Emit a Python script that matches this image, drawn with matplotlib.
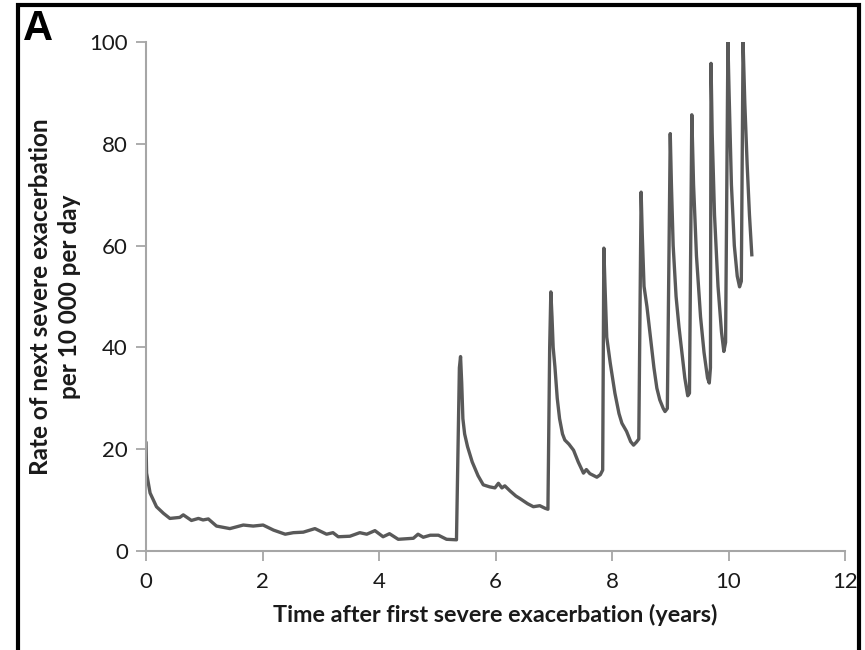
import matplotlib
matplotlib.use("Agg")
import matplotlib.pyplot as plt
from matplotlib.patches import Rectangle

# time after first severe exacerbation (years) and rate per 10 000 per day
years = [0.00, 0.01, 0.07, 0.18, 0.30, 0.41, 0.58, 0.64, 0.78, 0.90, 0.98, 1.07,
         1.21, 1.44, 1.67, 1.84, 2.01, 2.19, 2.39, 2.53, 2.70, 2.90, 3.10, 3.21,
         3.30, 3.50, 3.67, 3.79, 3.93, 4.07, 4.18, 4.33, 4.59, 4.67, 4.76, 4.88,
         5.02, 5.16, 5.30, 5.33,
         5.38, 5.40, 5.42, 5.44, 5.47, 5.52, 5.60, 5.70, 5.79, 5.90, 5.99, 6.05,
         6.11, 6.16, 6.25, 6.35, 6.42, 6.55, 6.65, 6.76, 6.85, 6.90,
         6.93, 6.95, 6.97, 6.99, 7.02, 7.06, 7.10, 7.15, 7.19, 7.26, 7.34, 7.42,
         7.51, 7.56, 7.62, 7.74, 7.80, 7.84,
         7.86, 7.88, 7.91, 7.97, 8.05, 8.12, 8.17, 8.25, 8.32, 8.37, 8.42, 8.46,
         8.50, 8.52, 8.55, 8.60, 8.66, 8.72, 8.77, 8.82, 8.88, 8.91, 8.95,
         9.00, 9.02, 9.05, 9.10, 9.15, 9.20, 9.25, 9.30, 9.33,
         9.37, 9.40, 9.45, 9.52, 9.58, 9.64, 9.67, 9.69,
         9.70, 9.72, 9.76, 9.82, 9.88, 9.92, 9.95,
         9.99, 10.01, 10.05, 10.10, 10.15, 10.19, 10.22,
         10.25, 10.28, 10.32, 10.36, 10.40]
rate = [21.2, 15.3, 11.4, 8.7, 7.4, 6.4, 6.6, 7.1, 6.0, 6.4, 6.1, 6.3,
        4.9, 4.4, 5.1, 4.9, 5.1, 4.1, 3.3, 3.6, 3.7, 4.4, 3.3, 3.6,
        2.8, 2.9, 3.6, 3.3, 4.0, 2.8, 3.4, 2.3, 2.5, 3.3, 2.7, 3.1,
        3.1, 2.3, 2.2, 2.2,
        36.0, 38.2, 33.0, 26.0, 23.0, 20.5, 17.5, 14.8, 13.0, 12.6, 12.4, 13.3,
        12.4, 12.8, 11.8, 10.8, 10.3, 9.3, 8.7, 8.9, 8.4, 8.2,
        40.0, 50.9, 46.0, 40.0, 36.2, 30.0, 26.0, 23.0, 21.8, 21.0, 19.8, 17.5,
        15.3, 16.0, 15.2, 14.5, 15.0, 15.9,
        59.5, 52.0, 42.0, 36.9, 31.0, 27.0, 25.1, 23.5, 21.5, 20.8, 21.4, 22.0,
        70.5, 62.0, 52.0, 48.0, 42.0, 36.0, 32.0, 29.7, 28.0, 27.4, 28.0,
        82.0, 72.0, 60.0, 50.0, 44.0, 39.0, 34.0, 30.5, 31.0,
        85.7, 72.0, 58.0, 46.0, 39.0, 34.0, 33.0, 36.0,
        95.8, 82.0, 66.0, 52.0, 43.0, 39.2, 41.0,
        100.0, 90.0, 72.0, 60.0, 54.0, 51.9, 53.0,
        100.0, 88.0, 76.0, 66.0, 58.2]

x_ticks = [0, 2, 4, 6, 8, 10, 12]
y_ticks = [0, 20, 40, 60, 80, 100]

plt.rcParams['font.family'] = ['Lato', 'DejaVu Sans']

fig = plt.figure(figsize=(8.65, 6.5), dpi=100)
ax = fig.add_axes([146 / 865, 1 - 551 / 650, 699 / 865, 509 / 650])

ax.plot(years, rate, color='#595959', linewidth=2.4, solid_joinstyle='round')

ax.set_xlim(0, 12)
ax.set_ylim(0, 100)
ax.set_xticks(x_ticks)
ax.set_yticks(y_ticks)
ax.tick_params(axis='both', direction='out', length=7, width=1.3, color='#a6a6a6',
               labelsize=16, labelcolor='#1a1a1a')
ax.tick_params(axis='x', pad=8)
ax.tick_params(axis='y', pad=6)

for side in ['top', 'right']:
    ax.spines[side].set_visible(False)
for side in ['left', 'bottom']:
    ax.spines[side].set_color('#a6a6a6')
    ax.spines[side].set_linewidth(1.5)

ax.set_xlabel('Time after first severe exacerbation (years)', fontsize=16.8,
              fontweight='bold', color='#1a1a1a', labelpad=9)
ax.set_ylabel('Rate of next severe exacerbation\nper 10 000 per day', fontsize=17.5,
              fontweight='bold', color='#1a1a1a', labelpad=6, linespacing=1.3)

# panel letter and outer frame
fig.text(23 / 865, 1 - 40 / 650, 'A', fontsize=30, fontweight='bold',
         family='Liberation Sans', color='black')
fig.patches.append(Rectangle((18 / 865, -0.05), 841 / 865, 1.05 - 5 / 650,
                             transform=fig.transFigure, fill=False,
                             edgecolor='black', linewidth=3, clip_on=False))

fig.savefig('out.png', dpi=100)
